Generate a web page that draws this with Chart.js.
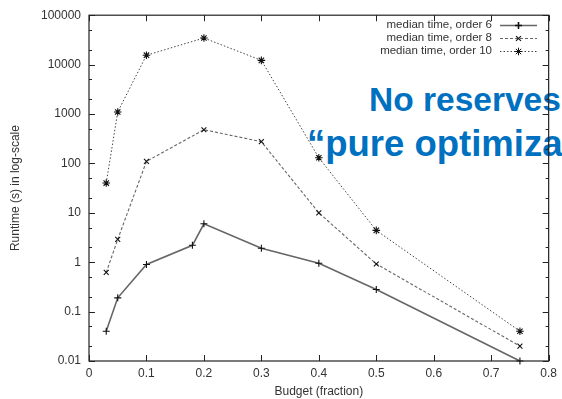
<!DOCTYPE html>
<html><head><meta charset="utf-8">
<script src="https://cdn.jsdelivr.net/npm/chart.js@4/dist/chart.umd.min.js"></script>
<style>
html,body{margin:0;padding:0;background:#fff;overflow:hidden;}
#wrap{position:relative;width:562px;height:399px;overflow:hidden;}
#c{position:absolute;left:0;top:0;z-index:2;}
.blue{position:absolute;z-index:1;white-space:nowrap;font-family:"Liberation Sans",Arial,sans-serif;font-weight:bold;color:#0070C0;}
</style>
</head><body>
<div id="wrap">
<div class="blue" style="left:369px;top:83px;font-size:33.5px;line-height:33.5px;">No reserves:</div>
<div class="blue" style="left:307px;top:126px;font-size:36.5px;line-height:36.5px;">“pure optimization”</div>
<canvas id="c" width="562" height="399"></canvas>
</div>
<script>
// ---- data ----
const budgets = [0.03, 0.05, 0.1, 0.2, 0.3, 0.4, 0.5, 0.75];
const budgets6 = [0.03, 0.05, 0.1, 0.18, 0.2, 0.3, 0.4, 0.5, 0.75];
const order6 = [0.04, 0.19, 0.9, 2.2, 6, 1.92, 0.95, 0.28, 0.01];
const order8 = [0.62, 2.9, 110, 480, 275, 10, 0.92, 0.02];
const order10 = [40, 1100, 15500, 34500, 12200, 130, 4.4, 0.04];
const seriesNames = ['median time, order 6', 'median time, order 8', 'median time, order 10'];
const xTicks = [0, 0.1, 0.2, 0.3, 0.4, 0.5, 0.6, 0.7, 0.8];
const xTickLabels = ['0', '0.1', '0.2', '0.3', '0.4', '0.5', '0.6', '0.7', '0.8'];
const yTicks = [0.01, 0.1, 1, 10, 100, 1000, 10000, 100000];
const yTickLabels = ['0.01', '0.1', '1', '10', '100', '1000', '10000', '100000'];
const yMinorFactors = [2, 5];

const FONT = '"Liberation Sans", Arial, sans-serif';
const pts = (xs, ys) => xs.map((x, i) => ({x: x, y: ys[i]}));

const frame = {
  id: 'frame',
  afterDatasetsDraw(chart) {
    const {ctx, chartArea: {left, right, top, bottom}, scales: {x, y}} = chart;
    ctx.save();
    ctx.strokeStyle = '#222';
    ctx.lineWidth = 1.2;
    ctx.strokeRect(left, top, right - left, bottom - top);
    ctx.lineWidth = 1;
    const line = (a, b, c, d) => { ctx.beginPath(); ctx.moveTo(a, b); ctx.lineTo(c, d); ctx.stroke(); };
    xTicks.forEach(v => {
      const px = Math.round(x.getPixelForValue(v)) + 0.5;
      line(px, bottom, px, bottom - 6);
      line(px, top, px, top + 6);
    });
    yTicks.forEach(v => {
      const py = Math.round(y.getPixelForValue(v)) + 0.5;
      line(left, py, left + 6, py);
      line(right, py, right - 6, py);
      if (v < 100000) {
        yMinorFactors.forEach(f => {
          const pm = Math.round(y.getPixelForValue(v * f)) + 0.5;
          line(left, pm, left + 3, pm);
          line(right, pm, right - 3, pm);
        });
      }
    });
    ctx.restore();
  }
};

const legendPlugin = {
  id: 'legendBox',
  afterDatasetsDraw(chart) {
    const ctx = chart.ctx;
    const rows = [25, 38, 51];
    ctx.save();
    chart.data.datasets.forEach((ds, i) => {
      const yy = rows[i];
      ctx.font = '11.5px ' + FONT;
      ctx.fillStyle = '#333';
      ctx.textAlign = 'right';
      ctx.textBaseline = 'middle';
      ctx.fillText(ds.label, 492, yy);
      ctx.strokeStyle = ds.borderColor;
      ctx.lineWidth = ds.borderWidth;
      ctx.setLineDash(ds.borderDash || []);
      ctx.beginPath(); ctx.moveTo(500, yy + 0.5); ctx.lineTo(537, yy + 0.5); ctx.stroke();
      ctx.setLineDash([]);
      ctx.strokeStyle = ds.pointBorderColor;
      ctx.fillStyle = ds.pointBorderColor;
      Chart.helpers.drawPoint(ctx, {pointStyle: ds.pointStyle, radius: ds.pointRadius, rotation: 0, borderWidth: ds.pointBorderWidth}, 518.5, yy + 0.5);
    });
    ctx.restore();
  }
};

new Chart(document.getElementById('c'), {
  type: 'line',
  data: {
    datasets: [
      {label: seriesNames[0], data: pts(budgets6, order6), borderColor: '#666', borderWidth: 1.6,
       pointStyle: 'cross', pointRadius: 3.5, pointBorderColor: '#111', pointBorderWidth: 1.1, pointBackgroundColor: '#111', clip: false},
      {label: seriesNames[1], data: pts(budgets, order8), borderColor: '#666', borderWidth: 1.1, borderDash: [3, 2],
       pointStyle: 'crossRot', pointRadius: 3.5, pointBorderColor: '#111', pointBorderWidth: 1.1, pointBackgroundColor: '#111', clip: false},
      {label: seriesNames[2], data: pts(budgets, order10), borderColor: '#444', borderWidth: 1, borderDash: [1.5, 2],
       pointStyle: 'star', pointRadius: 3.8, pointBorderColor: '#111', pointBorderWidth: 1.1, pointBackgroundColor: '#111', clip: false}
    ]
  },
  options: {
    responsive: false,
    animation: false,
    devicePixelRatio: 1,
    layout: {padding: {left: 0, right: 11, top: 14, bottom: 0}},
    plugins: {legend: {display: false}, tooltip: {enabled: false}},
    elements: {line: {tension: 0, fill: false}},
    scales: {
      x: {
        type: 'linear', min: 0, max: 0.8,
        afterBuildTicks: s => { s.ticks = xTicks.map(v => ({value: v})); },
        afterFit: s => { s.height = 38; },
        ticks: {callback: (v, i) => xTickLabels[i], font: {size: 12, family: FONT}, color: '#333', padding: 5, maxRotation: 0, autoSkip: false},
        grid: {display: false, drawTicks: false}, border: {display: false},
        title: {display: true, text: 'Budget (fraction)', font: {size: 12, family: FONT}, color: '#333', padding: {top: 0, bottom: 0}}
      },
      y: {
        type: 'logarithmic', min: 0.01, max: 100000,
        afterBuildTicks: s => { s.ticks = yTicks.map(v => ({value: v})); },
        afterFit: s => { s.width = 89; },
        ticks: {callback: (v, i) => yTickLabels[i], font: {size: 12, family: FONT}, color: '#333', padding: 8, autoSkip: false},
        grid: {display: false, drawTicks: false}, border: {display: false},
        title: {display: true, text: 'Runtime (s) in log-scale', font: {size: 12, family: FONT}, color: '#333', padding: {top: 8, bottom: 0}}
      }
    }
  },
  plugins: [frame, legendPlugin]
});
</script>
</body></html>
